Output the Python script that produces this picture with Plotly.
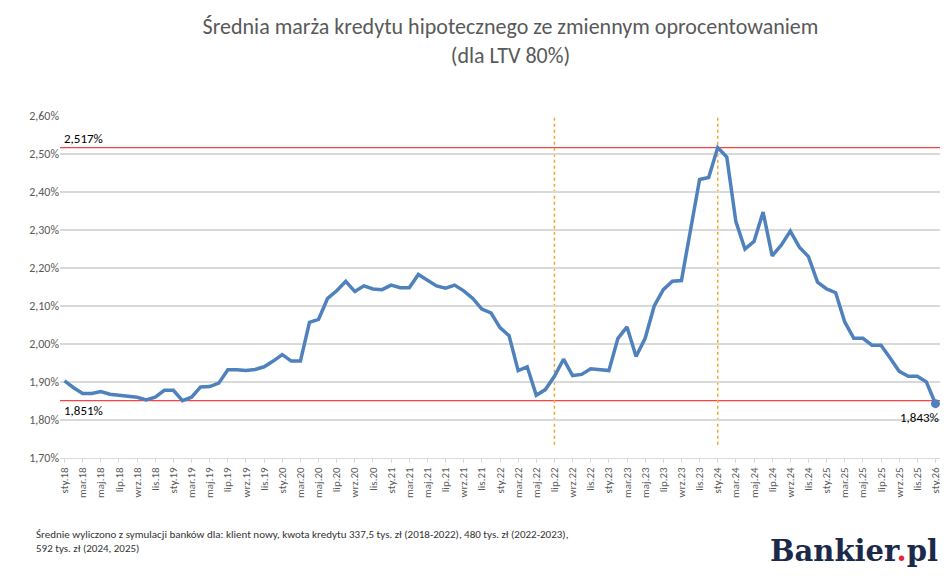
import plotly.graph_objects as go

# miesiące sty.18 .. sty.26
month_names = ['sty', 'lut', 'mar', 'kwi', 'maj', 'cze', 'lip', 'sie', 'wrz', 'paź', 'lis', 'gru']
months = [f'{m}.{y}' for y in range(18, 26) for m in month_names] + ['sty.26']

margin = [
    1.903, 1.885, 1.870, 1.870, 1.875, 1.868, 1.865, 1.863, 1.860, 1.853, 1.860, 1.878,
    1.878, 1.851, 1.860, 1.887, 1.888, 1.897, 1.932, 1.932, 1.930, 1.933, 1.940, 1.955,
    1.972, 1.955, 1.955, 2.057, 2.065, 2.120, 2.140, 2.165, 2.138, 2.153, 2.145, 2.143,
    2.155, 2.148, 2.148, 2.183, 2.168, 2.153, 2.147, 2.155, 2.140, 2.120, 2.092, 2.082,
    2.043, 2.022, 1.930, 1.940, 1.865, 1.880, 1.915, 1.960, 1.917, 1.920, 1.935, 1.933,
    1.930, 2.015, 2.045, 1.967, 2.015, 2.100, 2.143, 2.165, 2.167, 2.300, 2.433, 2.438,
    2.517, 2.492, 2.322, 2.250, 2.270, 2.347, 2.232, 2.260, 2.297, 2.255, 2.230, 2.163,
    2.145, 2.135, 2.058, 2.015, 2.015, 1.997, 1.997, 1.963, 1.928, 1.915, 1.915, 1.900,
    1.843,
]
max_val = 2.517
min_val = 1.851
marked_months = ['lip.22', 'sty.24']

blue = '#4F81BD'
fig = go.Figure()
fig.add_trace(go.Scatter(x=months, y=margin, mode='lines',
                         line=dict(color=blue, width=3.5), showlegend=False))
fig.add_trace(go.Scatter(x=[months[-1]], y=[margin[-1]], mode='markers',
                         marker=dict(color=blue, size=9), showlegend=False))

for v in [max_val, min_val]:
    fig.add_shape(type='line', xref='paper', x0=0, x1=1, y0=v, y1=v, layer='below',
                  line=dict(color='#FF4040', width=1.3))
for m in marked_months:
    fig.add_shape(type='line', x0=m, x1=m, y0=1.735, y1=2.60, layer='below',
                  line=dict(color='#F5A623', width=1.5, dash='dot'))

fig.add_annotation(x=0.002, xref='paper', y=max_val, text='2,517%', showarrow=False,
                   xanchor='left', yanchor='bottom', font=dict(size=13, color='#000'))
fig.add_annotation(x=0.002, xref='paper', y=min_val, text='1,851%', showarrow=False,
                   xanchor='left', yanchor='top', font=dict(size=13, color='#000'))
fig.add_annotation(x=months[-1], y=margin[-1], text='1,843%', showarrow=False,
                   xanchor='right', yanchor='top', yshift=-4, xshift=6,
                   font=dict(size=13, color='#000'))

fig.add_annotation(xref='paper', yref='paper', x=-0.03, y=-0.20, xanchor='left', yanchor='top',
                   align='left', showarrow=False, font=dict(size=11, color='#333'),
                   text='Średnie wyliczono z symulacji banków dla: klient nowy, kwota kredytu 337,5 tys. zł (2018-2022), 480 tys. zł (2022-2023),<br>592 tys. zł (2024, 2025)')
fig.add_annotation(xref='paper', yref='paper', x=1.0, y=-0.215, xanchor='right', yanchor='top',
                   showarrow=False,
                   text="<b><span style='color:#1B2A4A'>Bankier</span><span style='color:#E3262F'>.</span><span style='color:#1B2A4A'>pl</span></b>",
                   font=dict(size=29, family='DejaVu Serif'))

fig.update_layout(
    width=948, height=583,
    margin=dict(l=52, r=16, t=108, b=133),
    paper_bgcolor='white', plot_bgcolor='white',
    separators=', ',
    font=dict(family='Calibri, Carlito, Liberation Sans, sans-serif', color='#595959'),
    title=dict(text='Średnia marża kredytu hipotecznego ze zmiennym oprocentowaniem<br>(dla LTV 80%)',
               x=0.53, xanchor='center', y=0.955, yanchor='top',
               font=dict(size=22, color='#595959')),
    xaxis=dict(type='category', tickmode='array', tickvals=months[::2], ticktext=months[::2],
               tickangle=-90, tickfont=dict(size=11), showgrid=False,
               showline=True, linecolor='#D9D9D9', ticks='outside', ticklen=4,
               tickcolor='#D9D9D9', range=[-0.5, len(months) - 0.5]),
    yaxis=dict(range=[1.70, 2.60], dtick=0.1, tickformat='.2f', ticksuffix='%',
               tickfont=dict(size=12), gridcolor='#D9D9D9', gridwidth=1.5, zeroline=False),
)

fig.write_html('out.html')
